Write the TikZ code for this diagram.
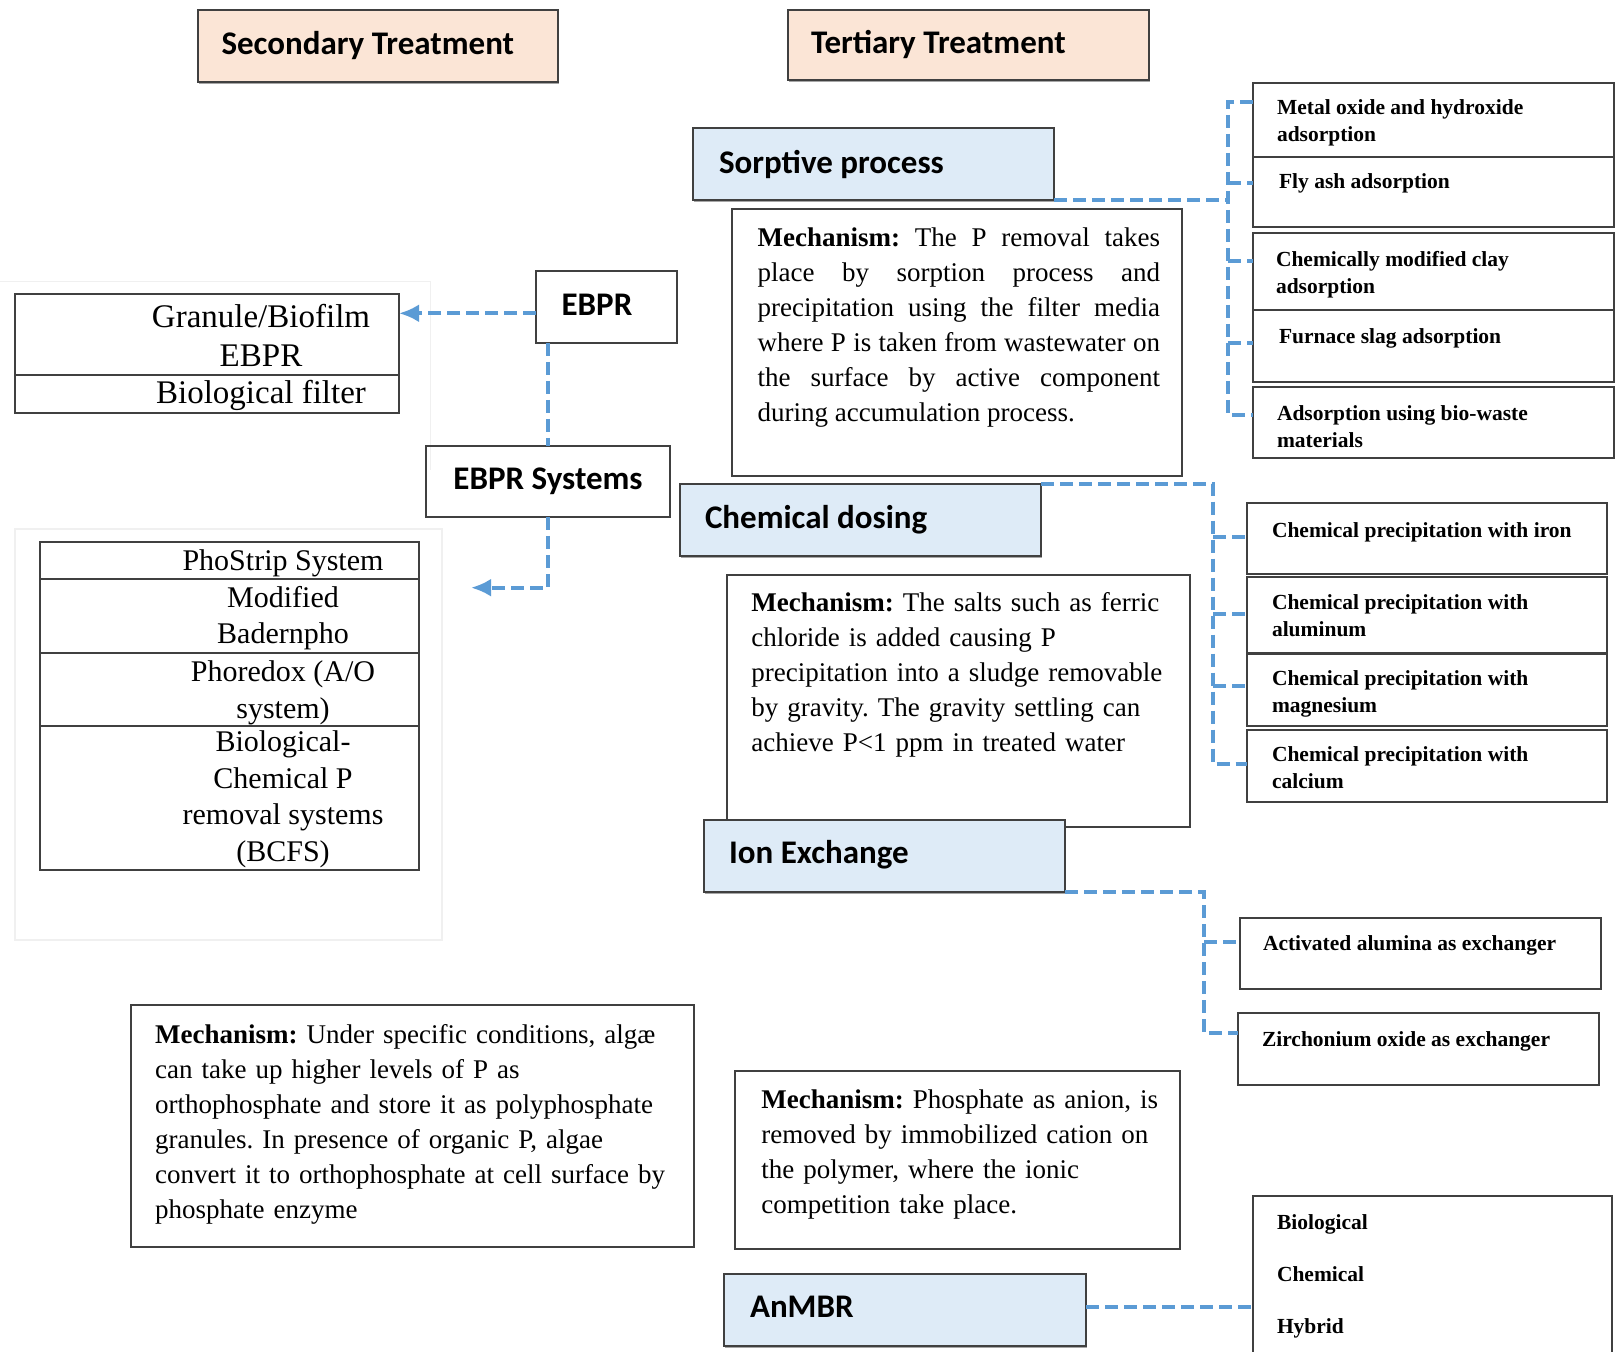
\documentclass[tikz,border=0pt]{standalone}
\usepackage{fontspec}
\setmainfont{Liberation Serif}
\newfontfamily\calib{Carlito}
\usetikzlibrary{arrows.meta,shadows}
\definecolor{peach}{HTML}{FBE5D6}
\definecolor{lblue}{HTML}{DEEBF7}
\definecolor{conn}{HTML}{5B9BD5}
\definecolor{edge}{HTML}{404040}
\newcommand\mkbox[6]{\node[#1, minimum width={(#5-#3)*0.5pt}, minimum height={(#6-#4)*0.5pt}] (#2) at (#3,#4) {};}
\frenchspacing
\begin{document}
\frenchspacing
\begin{tikzpicture}[x=0.5pt,y=-0.5pt,
  box/.style={draw=edge, line width=1pt, inner sep=0pt, outer sep=0pt, anchor=north west},
  hdr/.style={box, fill=peach, drop shadow={shadow xshift=0.4pt, shadow yshift=-1pt, fill=black!35, opacity=1}},
  cat/.style={box, fill=lblue, drop shadow={shadow xshift=0.4pt, shadow yshift=-1pt, fill=black!35, opacity=1}},
  hlab/.style={font=\calib\bfseries\fontsize{16.5}{20}\selectfont, inner sep=0pt, outer sep=0pt, anchor=base west},
  mtxt/.style={font=\fontsize{13.5}{17.5}\selectfont\frenchspacing, inner sep=0pt, outer sep=0pt, anchor=north west, align=left},
  stxt/.style={font=\bfseries\fontsize{10.75}{13.35}\selectfont, inner sep=0pt, outer sep=0pt, anchor=north west, align=left},
  ttxt/.style={font=\fontsize{15}{18.25}\selectfont, inner sep=0pt, outer sep=0pt, anchor=north, align=center},
  gtxt/.style={font=\fontsize{16.5}{19.75}\selectfont, inner sep=0pt, outer sep=0pt, anchor=north, align=center},
  cn/.style={draw=conn, line width=2pt, dash pattern=on 6.5pt off 3pt},
  arr/.style={-{Latex[length=10pt,width=9pt]}}
]
\fill[white] (0,0) rectangle (1616,1352);
\useasboundingbox (0,0) rectangle (1616,1352);

% faint background frames
\draw[black!6, line width=0.6pt] (0,281.7) -- (430.8,281.7) -- (430.8,470);
\draw[black!6, line width=0.6pt] (15,529) rectangle (442,940);

% headers and categories
\mkbox{hdr}{sec}{198}{10}{558}{82}
\mkbox{hdr}{ter}{788}{10}{1149}{80}
\mkbox{cat}{sorp}{693}{128}{1054}{200}
\mkbox{box}{mechA}{732}{209}{1182}{476}
\mkbox{box}{ebpr}{536}{271}{677}{343}
\mkbox{box}{gran}{15}{294}{399}{413}
\mkbox{box}{ebprsys}{426}{446}{670}{517}
\mkbox{cat}{chem}{680}{484}{1041}{556}
\mkbox{box}{mechB}{727}{575}{1190}{827}
\mkbox{cat}{ion}{704}{820}{1065}{892}
\mkbox{box}{phos}{40}{542}{419}{870}
\mkbox{box}{mechC}{131}{1005}{694}{1247}
\mkbox{box}{mechD}{735}{1071}{1180}{1249}
\mkbox{cat}{anmbr}{724}{1274}{1086}{1346}

% right-hand boxes
\mkbox{box}{m1}{1253}{83}{1614}{157}
\mkbox{box}{m2}{1253}{157}{1614}{227}
\mkbox{box}{m3}{1253}{233}{1614}{310}
\mkbox{box}{m4}{1253}{310}{1614}{382}
\mkbox{box}{m5}{1253}{387}{1614}{458}
\mkbox{box}{c1}{1247}{503}{1607}{574}
\mkbox{box}{c2}{1247}{577}{1607}{653}
\mkbox{box}{c3}{1247}{654}{1607}{726}
\mkbox{box}{c4}{1247}{730}{1607}{802}
\mkbox{box}{i1}{1240}{918}{1601}{989}
\mkbox{box}{i2}{1238}{1013}{1599}{1085}
\mkbox{box}{an}{1253}{1196}{1612}{1380}

% table dividers
\draw[edge, line width=1pt] (gran.west |- 0,375.3) -- (gran.east |- 0,375.3);
\draw[edge, line width=1pt] (phos.west |- 0,579.3) -- (phos.east |- 0,579.3);
\draw[edge, line width=1pt] (phos.west |- 0,652.7) -- (phos.east |- 0,652.7);
\draw[edge, line width=1pt] (phos.west |- 0,726) -- (phos.east |- 0,726);

% connectors: sorptive
\coordinate (sT) at (1228.3,101.7);
\coordinate (sB) at (1228.3,415);
\coordinate (s2) at (1228.3,183.3);
\coordinate (s3) at (1228.3,260.7);
\coordinate (s4) at (1228.3,343.3);
\draw[cn] (sorp.south east) -- (sorp.south east -| sT);
\draw[cn] (m1.west |- sT) -- (sT) -- (sB) -- (m5.west |- sB);
\draw[cn] (s2) -- (m2.west |- s2);
\draw[cn] (s3) -- (m3.west |- s3);
\draw[cn] (s4) -- (m4.west |- s4);

% connectors: chemical dosing
\coordinate (cB) at (1213.3,764.3);
\coordinate (cs1) at (1213.3,536.7);
\coordinate (cs2) at (1213.3,614);
\coordinate (cs3) at (1213.3,686);
\draw[cn] (chem.north east) -- (chem.north east -| cB) -- (cB) -- (c4.west |- cB);
\draw[cn] (cs1) -- (c1.west |- cs1);
\draw[cn] (cs2) -- (c2.west |- cs2);
\draw[cn] (cs3) -- (c3.west |- cs3);

% connectors: ion exchange
\coordinate (iB) at (1204,1033);
\coordinate (is1) at (1204,942);
\draw[cn] (ion.south east) -- (ion.south east -| iB) -- (iB) -- (i2.west |- iB);
\draw[cn] (is1) -- (i1.west |- is1);

% connector: AnMBR
\coordinate (aS) at (1086,1306.7);
\draw[cn] (aS) -- (an.west |- aS);

% connectors: EBPR
\coordinate (eA) at (536,313.3);
\coordinate (tipE) at (471,587.7);
\draw[cn, arr] (eA) -- (gran.east |- eA);
\draw[cn] (ebpr.south -| ebprsys.north) -- (ebprsys.north);
\draw[cn, arr] (ebprsys.south) -- (ebprsys.south |- tipE) -- (tipE);

% header / category labels
\node[hlab] (tsec) at (221.5,55) {Secondary Treatment};
\node[hlab] (tter) at (811,53.3) {Tertiary Treatment};
\node[hlab] (tsorp) at (719,173.3) {Sorptive process};
\node[hlab] (tchem) at (705,528.3) {Chemical dosing};
\node[hlab] (tion) at (729,863.3) {Ion Exchange};
\node[hlab] (tan) at (750,1317.3) {AnMBR};
\node[hlab] (tebpr) at (561.6,316) {EBPR};
\node[hlab, anchor=base] (tebs) at (548,490) {EBPR Systems};

% mechanism texts
\node[mtxt, text width=201.15pt, align=justify] (tmA) at (757.7,222.5) {\strut\textbf{Mechanism:} The P removal takes\linebreak place by sorption process and\linebreak precipitation using the filter media\linebreak where P is taken from wastewater on\linebreak the surface by active component\linebreak during accumulation process.};
\node[mtxt, text width=215pt] (tmB) at (751.4,587.2) {\strut\textbf{Mechanism:} The salts such as ferric\\chloride is added causing P\\precipitation into a sludge removable\\by gravity. The gravity settling can\\achieve P<1 ppm in treated water};
\node[mtxt, text width=270pt] (tmC) at (155.2,1018.5) {\strut\textbf{Mechanism:} Under specific conditions, algæ\\can take up higher levels of P as\\orthophosphate and store it as polyphosphate\\granules. In presence of organic P, algae\\convert it to orthophosphate at cell surface by\\phosphate enzyme};
\node[mtxt, text width=210pt] (tmD) at (761.4,1083.5) {\strut\textbf{Mechanism:} Phosphate as anion, is\\removed by immobilized cation on\\the polymer, where the ionic\\competition take place.};

% table texts
\node[gtxt] (tg1) at (261,299.4) {\strut Granule/Biofilm\\EBPR};
\node[gtxt] (tg2) at (261,375.7) {\strut Biological filter};
\node[ttxt] (tp1) at (283,544.5) {\strut PhoStrip System};
\node[ttxt] (tp2) at (283,581.5) {\strut Modified\\Badernpho};
\node[ttxt] (tp3) at (283,656) {\strut Phoredox (A/O\\system)};
\node[ttxt] (tp4) at (283,726) {\strut Biological-\\Chemical P\\removal systems\\(BCFS)};

% right-hand box texts
\node[stxt] (tm1) at (1277,96.3) {\strut Metal oxide and hydroxide\\adsorption};
\node[stxt] (tm2) at (1279,170.3) {\strut Fly ash adsorption};
\node[stxt] (tm3) at (1276,248.3) {\strut Chemically modified clay\\adsorption};
\node[stxt] (tm4) at (1279,325.3) {\strut Furnace slag adsorption};
\node[stxt] (tm5) at (1277,402.3) {\strut Adsorption using bio-waste\\materials};
\node[stxt] (tc1) at (1272,519) {\strut Chemical precipitation with iron};
\node[stxt] (tc2) at (1272,591.3) {\strut Chemical precipitation with\\aluminum};
\node[stxt] (tc3) at (1272,667.3) {\strut Chemical precipitation with\\magnesium};
\node[stxt] (tc4) at (1272,743.3) {\strut Chemical precipitation with\\calcium};
\node[stxt] (ti1) at (1263,932.3) {\strut Activated alumina as exchanger};
\node[stxt] (ti2) at (1262,1028) {\strut Zirchonium oxide as exchanger};
\node[stxt, font=\bfseries\fontsize{10.75}{26}\selectfont] (tan1) at (1277,1192.6) {\strut Biological\\Chemical\\Hybrid};
\end{tikzpicture}
\end{document}
